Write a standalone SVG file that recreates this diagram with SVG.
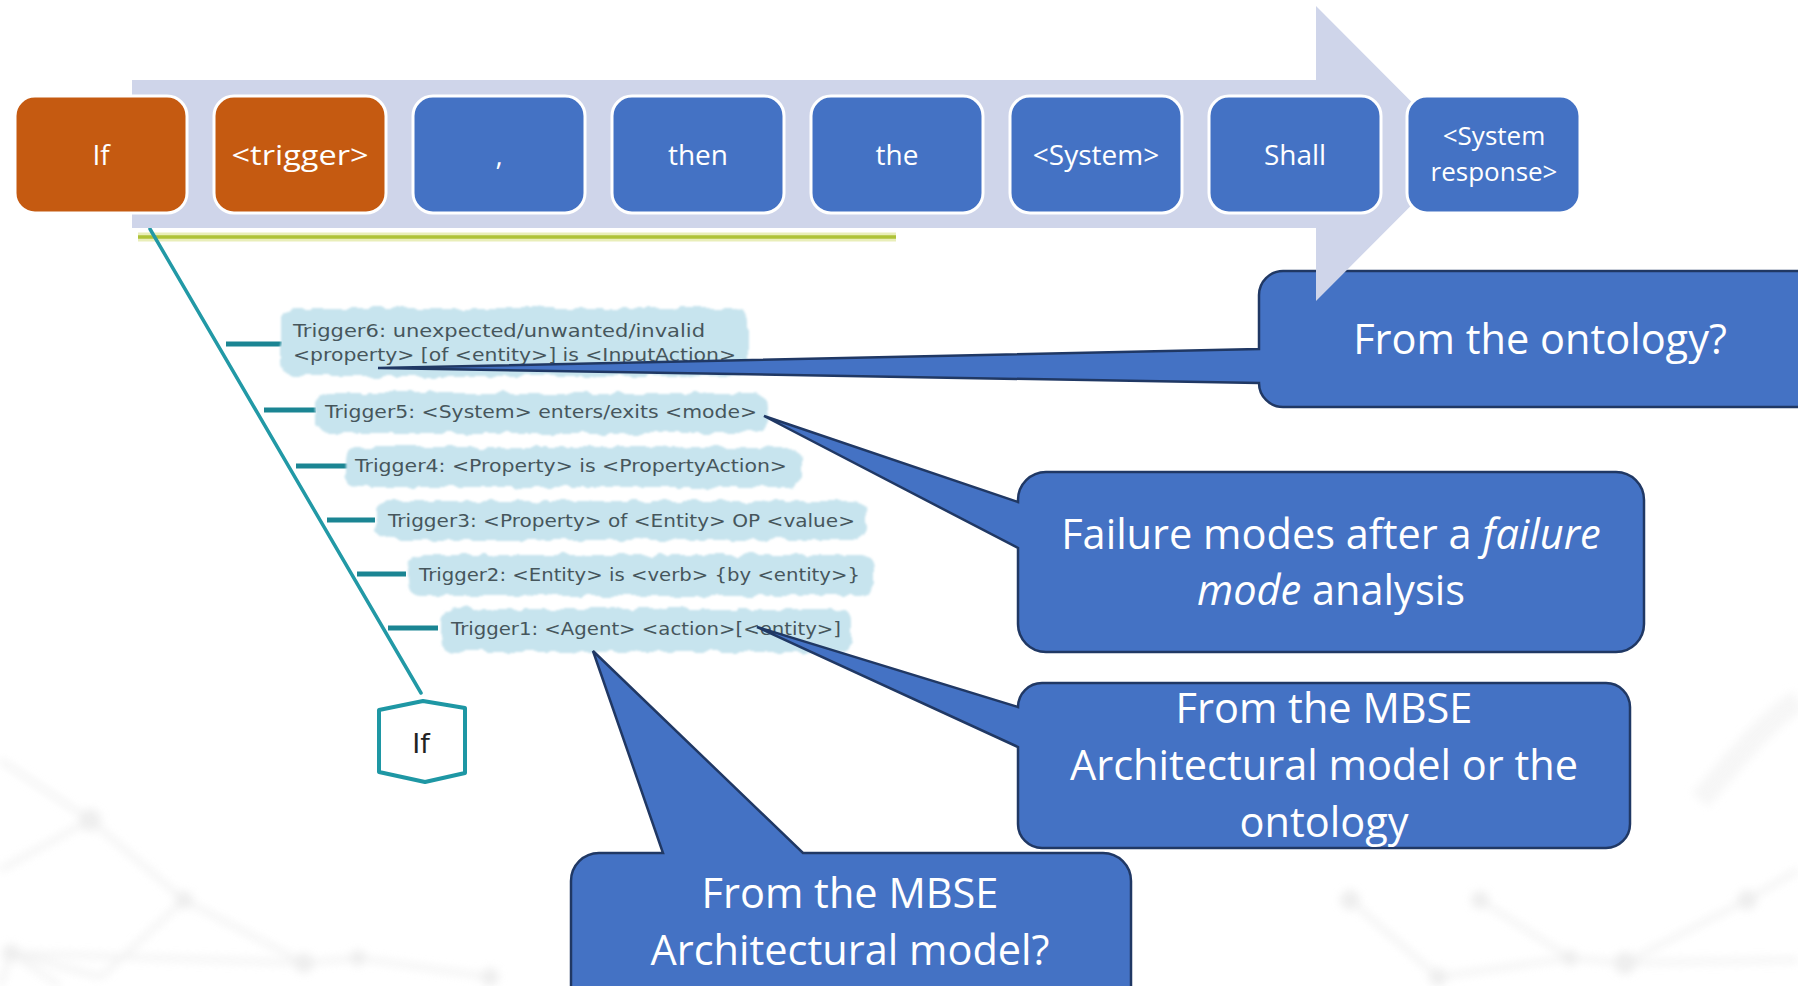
<svg xmlns="http://www.w3.org/2000/svg" width="1798" height="986" viewBox="0 0 1798 986">
  <defs>
    <style>
      .step{stroke:#ffffff;stroke-width:3}
      .orange{fill:#C55A11}
      .blue{fill:#4472C4}
      .lbl{font-family:"Open Sans","Liberation Sans",sans-serif;font-size:28px;fill:#ffffff;text-anchor:middle}
      .lbl2{font-size:26px}
      .callout{fill:#4472C4;stroke:#203864;stroke-width:2.5;stroke-linejoin:miter}
      .ctext{font-family:"Open Sans","Liberation Sans",sans-serif;font-size:41.5px;fill:#ffffff;text-anchor:middle}
      .cloud{fill:#C7E4EE}
      .trig{font-family:"DejaVu Sans","Liberation Sans",sans-serif;font-size:18px;fill:#46565C}
      .spine{stroke:#2299A6;stroke-width:3.5;fill:none;stroke-linecap:round}
      .rib{stroke:#1B8593;stroke-width:5}
      .net{stroke:#E9E9E9;stroke-width:5;fill:none}
      .dot{fill:#E3E3E3}
    </style>
    <filter id="rough" x="-5%" y="-30%" width="110%" height="160%">
      <feTurbulence type="fractalNoise" baseFrequency="0.07" numOctaves="2" seed="7" result="noise"/>
      <feDisplacementMap in="SourceGraphic" in2="noise" scale="9" xChannelSelector="R" yChannelSelector="G"/>
      <feGaussianBlur stdDeviation="0.8"/>
    </filter>
    <filter id="soft" x="-10%" y="-10%" width="120%" height="120%">
      <feGaussianBlur stdDeviation="4"/>
    </filter>
  </defs>

  <!-- slide background -->
  <rect width="1798" height="986" fill="#ffffff"/>

  <!-- faint network decoration -->
  <g id="backdrop" filter="url(#soft)" opacity="0.6">
    <path class="net" d="M0,870 L90,820 L184,900 L304,963 L358,958 L490,977"/>
    <path class="net" d="M11,953 L101,977 M11,953 L304,963 M90,820 L0,760 M11,953 L0,986 M184,900 L101,977"/>
    <path class="net" d="M60,986 L11,953"/>
    <circle class="dot" cx="90" cy="820" r="11"/>
    <circle class="dot" cx="184" cy="900" r="9"/>
    <circle class="dot" cx="304" cy="963" r="10"/>
    <circle class="dot" cx="358" cy="958" r="8"/>
    <circle class="dot" cx="11" cy="953" r="9"/>
    <circle class="dot" cx="490" cy="977" r="9"/>
    <path class="net" d="M1350,900 L1438,977 M1480,900 L1570,958 L1625,963 L1747,900 L1798,870 M1625,963 L1798,960 M1438,977 L1570,958"/>
    <circle class="dot" cx="1747" cy="900" r="10"/>
    <circle class="dot" cx="1625" cy="963" r="11"/>
    <circle class="dot" cx="1570" cy="958" r="8"/>
    <circle class="dot" cx="1438" cy="977" r="9"/>
    <circle class="dot" cx="1350" cy="900" r="10"/>
    <circle class="dot" cx="1480" cy="900" r="9"/>
    <path d="M1700,800 C1735,760 1762,725 1798,700" stroke="#F1F1F1" stroke-width="22" fill="none"/>
  </g>

  <!-- embedded fishbone panel -->
  <g id="panel">
    <rect x="138" y="229" width="758" height="464" fill="#ffffff"/>
    <rect x="138" y="229" width="356" height="568" fill="#ffffff"/>
    <line x1="138" y1="237" x2="896" y2="237" stroke="#E9EEB9" stroke-width="9"/>
    <line x1="138" y1="237" x2="896" y2="237" stroke="#AEC238" stroke-width="3.5"/>
  </g>

  <!-- fishbone spine and ribs -->
  <g id="connectors">
    <line class="spine" x1="150" y1="229" x2="421" y2="693"/>
    <line class="rib" x1="226" y1="344" x2="282" y2="344"/>
    <line class="rib" x1="264" y1="410" x2="316" y2="410"/>
    <line class="rib" x1="296" y1="466" x2="349" y2="466"/>
    <line class="rib" x1="327" y1="520" x2="375" y2="520"/>
    <line class="rib" x1="357" y1="574" x2="406" y2="574"/>
    <line class="rib" x1="388" y1="628" x2="438" y2="628"/>
  </g>

  <!-- trigger patterns -->
  <g id="trigger6">
    <rect class="cloud" filter="url(#rough)" x="281" y="308" width="467" height="68" rx="14"/>
    <text class="trig" x="293" y="337" textLength="412" lengthAdjust="spacingAndGlyphs">Trigger6: unexpected/unwanted/invalid</text>
    <text class="trig" x="293" y="361" textLength="443" lengthAdjust="spacingAndGlyphs">&lt;property&gt; [of &lt;entity&gt;] is &lt;InputAction&gt;</text>
  </g>
  <g id="trigger5">
    <rect class="cloud" filter="url(#rough)" x="315" y="393" width="453" height="40" rx="14"/>
    <text class="trig" x="325" y="418" textLength="432" lengthAdjust="spacingAndGlyphs">Trigger5: &lt;System&gt; enters/exits &lt;mode&gt;</text>
  </g>
  <g id="trigger4">
    <rect class="cloud" filter="url(#rough)" x="346" y="447" width="456" height="40" rx="14"/>
    <text class="trig" x="355" y="472" textLength="432" lengthAdjust="spacingAndGlyphs">Trigger4: &lt;Property&gt; is &lt;PropertyAction&gt;</text>
  </g>
  <g id="trigger3">
    <rect class="cloud" filter="url(#rough)" x="376" y="501" width="491" height="39" rx="14"/>
    <text class="trig" x="388" y="527" textLength="467" lengthAdjust="spacingAndGlyphs">Trigger3: &lt;Property&gt; of &lt;Entity&gt; OP &lt;value&gt;</text>
  </g>
  <g id="trigger2">
    <rect class="cloud" filter="url(#rough)" x="407" y="555" width="467" height="41" rx="14"/>
    <text class="trig" x="419" y="581" textLength="441" lengthAdjust="spacingAndGlyphs">Trigger2: &lt;Entity&gt; is &lt;verb&gt; {by &lt;entity&gt;}</text>
  </g>
  <g id="trigger1">
    <rect class="cloud" filter="url(#rough)" x="441" y="609" width="411" height="43" rx="14"/>
    <text class="trig" x="451" y="635" textLength="390" lengthAdjust="spacingAndGlyphs">Trigger1: &lt;Agent&gt; &lt;action&gt;[&lt;entity&gt;]</text>
  </g>

  <!-- fishbone head -->
  <g id="if-head">
    <path d="M379,710 L423,701 L465,708 L465,773 L425,782 L379,772 Z" fill="#ffffff" stroke="#1E97A4" stroke-width="4" stroke-linejoin="round"/>
    <text x="421" y="753" font-family="DejaVu Sans, Liberation Sans, sans-serif" font-size="27" fill="#222222" text-anchor="middle">If</text>
  </g>

  <!-- callout sitting beneath the process arrow -->
  <g id="callout-ontology">
    <path class="callout" d="M1283,271 H1830 V407 H1283 A24,24 0 0 1 1259,383 L378,368 L1259,349 V295 A24,24 0 0 1 1283,271 Z"/>
    <text class="ctext" x="1540" y="354">From the ontology?</text>
  </g>

  <!-- process arrow -->
  <g id="arrow">
    <path d="M132,80 H1316 V6 L1463,153.5 L1316,301 V228 H132 Z" fill="#CFD5EA"/>
  </g>

  <!-- sentence template steps -->
  <g id="step-if">
    <rect class="step orange" x="15" y="96" width="172" height="117" rx="20"/>
    <text class="lbl" x="101" y="165">If</text>
  </g>
  <g id="step-trigger">
    <rect class="step orange" x="214" y="96" width="172" height="117" rx="20"/>
    <text class="lbl" x="300" y="165" textLength="137" lengthAdjust="spacingAndGlyphs">&lt;trigger&gt;</text>
  </g>
  <g id="step-comma">
    <rect class="step blue" x="413" y="96" width="172" height="117" rx="20"/>
    <text class="lbl" x="499" y="165">,</text>
  </g>
  <g id="step-then">
    <rect class="step blue" x="612" y="96" width="172" height="117" rx="20"/>
    <text class="lbl" x="698" y="165">then</text>
  </g>
  <g id="step-the">
    <rect class="step blue" x="811" y="96" width="172" height="117" rx="20"/>
    <text class="lbl" x="897" y="165">the</text>
  </g>
  <g id="step-system">
    <rect class="step blue" x="1010" y="96" width="172" height="117" rx="20"/>
    <text class="lbl" x="1096" y="165">&lt;System&gt;</text>
  </g>
  <g id="step-shall">
    <rect class="step blue" x="1209" y="96" width="172" height="117" rx="20"/>
    <text class="lbl" x="1295" y="165">Shall</text>
  </g>
  <g id="step-response">
    <rect class="step blue" x="1407" y="96" width="173" height="117" rx="20"/>
    <text class="lbl lbl2" x="1494" y="145">&lt;System</text>
    <text class="lbl lbl2" x="1494" y="181">response&gt;</text>
  </g>

  <!-- remaining callouts -->
  <g id="callout-failure">
    <path class="callout" d="M1046,472 H1616 A28,28 0 0 1 1644,500 V624 A28,28 0 0 1 1616,652 H1046 A28,28 0 0 1 1018,624 V548 L764,416 L1018,502 V500 A28,28 0 0 1 1046,472 Z"/>
    <text class="ctext" x="1331" y="549">Failure modes after a <tspan font-style="italic">failure</tspan></text>
    <text class="ctext" x="1331" y="605"><tspan font-style="italic">mode</tspan> analysis</text>
  </g>
  <g id="callout-mbse-ontology">
    <path class="callout" d="M1042,683 H1606 A24,24 0 0 1 1630,707 V824 A24,24 0 0 1 1606,848 H1042 A24,24 0 0 1 1018,824 V747 L757,627 L1018,707 A24,24 0 0 1 1042,683 Z"/>
    <text class="ctext" x="1324" y="723">From the MBSE</text>
    <text class="ctext" x="1324" y="780">Architectural model or the</text>
    <text class="ctext" x="1324" y="837">ontology</text>
  </g>
  <g id="callout-mbse">
    <path class="callout" d="M599,853 H663 L593,651 L803,853 H1103 A28,28 0 0 1 1131,881 V1020 H571 V881 A28,28 0 0 1 599,853 Z"/>
    <text class="ctext" x="850" y="908">From the MBSE</text>
    <text class="ctext" x="850" y="965">Architectural model?</text>
  </g>
</svg>
